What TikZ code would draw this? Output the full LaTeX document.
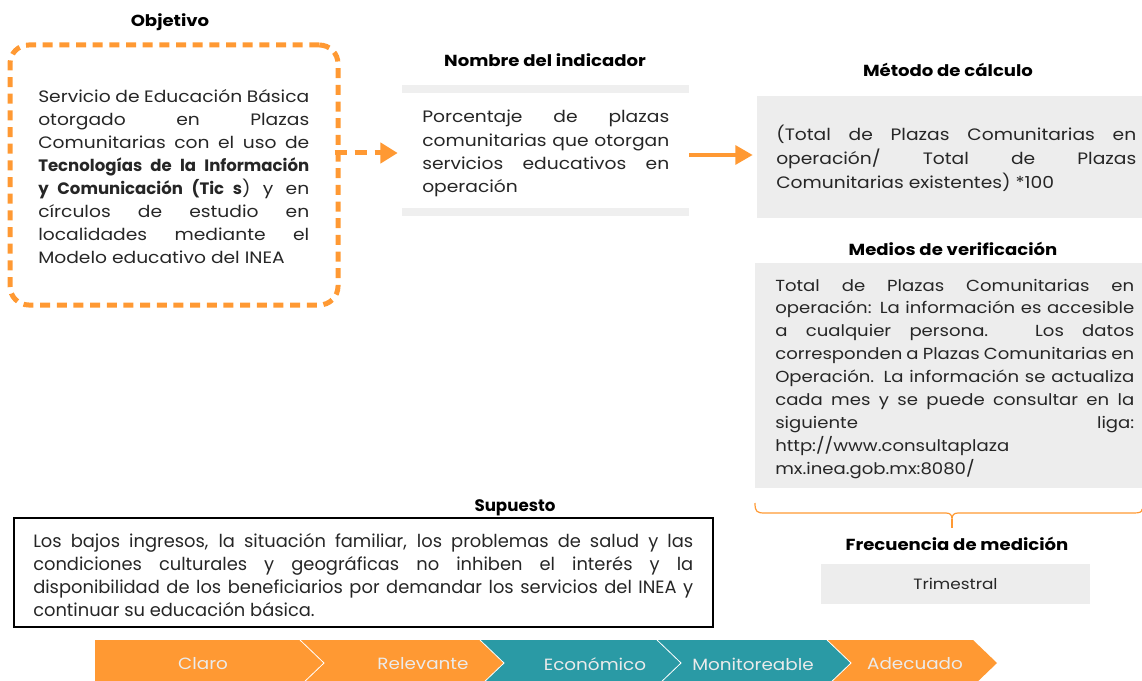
\documentclass[tikz,border=0pt]{standalone}
\usepackage{fontspec}
\setmainfont{Poppins}[FakeStretch=1.13]
\newfontfamily\condfont[FakeStretch=1.0]{Poppins}
\usetikzlibrary{arrows.meta,calc}
\definecolor{orng}{HTML}{FF9933}
\definecolor{tealc}{HTML}{2A9AA5}
\definecolor{boxgray}{HTML}{EDEDED}
\definecolor{bargray}{HTML}{EFEFEF}
\definecolor{txt}{HTML}{262626}
\newcommand{\J}[1]{\makebox[\linewidth][s]{#1}\par}
\newcommand{\Lst}[1]{\makebox[\linewidth][l]{#1}\par}
\newcommand{\bodybold}[1]{{\condfont\bfseries #1}}
\begin{document}
\begin{tikzpicture}[x=0.75pt,y=-0.75pt,
  title/.style={font=\fontsize{12}{14}\selectfont\bfseries, text=black, inner sep=0},
  body/.style={anchor=base west, inner sep=0, text=txt, font=\fontsize{12.4}{17.2}\selectfont},
  graybox/.style={fill=boxgray, draw=none, inner sep=0},
  chev/.style={draw=white, line width=0.6pt},
  chevtext/.style={text=white!92!black, font=\fontsize{12.2}{14}\selectfont, inner sep=0}
]
\useasboundingbox (0,0) rectangle (1142,681);

% ---------- Objetivo ----------
\node[title] (tobj) at (170,22) {Objetivo};
\node[draw=orng, line width=3.75pt, dash pattern=on 7.5pt off 5pt, rounded corners=14pt,
      minimum width=246pt, minimum height=195pt, inner sep=0] (obj) at (174,175) {};
\node[body] (objtext) at (38,103) {\parbox[t]{203.25pt}{%
\J{Servicio de Educación Básica}
\J{otorgado en Plazas}
\J{Comunitarias con el uso de}
\J{\bodybold{Tecnologías de la Información}}
\J{\bodybold{y Comunicación (Tic s}) y en}
\J{círculos de estudio en}
\J{localidades mediante el}
\Lst{Modelo educativo del INEA}}};

% ---------- Nombre del indicador ----------
\node[title] (tind) at (545,60) {Nombre del indicador};
\node[fill=white, inner sep=0, minimum width=215.25pt, minimum height=98.25pt] (ind) at (545.5,150.5) {};
\fill[bargray] (ind.north west) rectangle ($(ind.north east)+(0,8)$);
\fill[bargray] ($(ind.south west)+(0,-8)$) rectangle (ind.south east);
\node[body, font=\fontsize{12.4}{17.5}\selectfont] (indtext) at (422,123) {\parbox[t]{185.25pt}{%
\J{Porcentaje de plazas}
\J{comunitarias que otorgan}
\J{servicios educativos en}
\Lst{operación}}};

% ---------- Método de cálculo ----------
\node[title] (tmet) at (948,70) {Método de cálculo};
\node[graybox, minimum width=288.75pt, minimum height=91.5pt] (met) at (949.5,157) {};
\node[body, font=\fontsize{12.4}{18}\selectfont] (mettext) at (776,141) {\parbox[t]{270pt}{%
\J{(Total de Plazas Comunitarias en}
\J{operación/ Total de Plazas}
\Lst{Comunitarias existentes) *100}}};

% ---------- Medios de verificación ----------
\node[title] (tmed) at (953,249) {Medios de verificación};
\node[graybox, minimum width=290.25pt, minimum height=168.75pt] (med) at (948.5,375.5) {};
\node[body, font=\fontsize{12}{17.2}\selectfont] (medtext) at (775,291) {\parbox[t]{269.25pt}{%
\J{Total de Plazas Comunitarias en}
\J{operación: La información es accesible}
\J{a cualquier persona. Los datos}
\J{corresponden a Plazas Comunitarias en}
\J{Operación. La información se actualiza}
\J{cada mes y se puede consultar en la}
\J{siguiente liga:}
\Lst{http://www.consultaplaza}
\Lst{mx.inea.gob.mx:8080/}}};

% brace
\coordinate (bl) at (755,503);
\coordinate (bm) at (952,528);
\coordinate (br) at (1142,509);
\draw[orng, line width=0.9pt]
  (bl) .. controls (755,512) and (757,513) .. (765,513) -- (946,513)
  .. controls (950,513) and (952,515) .. (952,519)
  .. controls (952,515) and (954,513) .. (958,513) -- (1134,513)
  .. controls (1140,513) and (1142,512) .. (br);
\draw[orng, line width=0.9pt] (952,519) -- (bm);

% ---------- Frecuencia ----------
\node[title] (tfre) at (957,544) {Frecuencia de medición};
\node[graybox, minimum width=201.75pt, minimum height=30pt, text=txt,
      font=\fontsize{11.2}{14}\selectfont] (fre) at (955.5,584) {Trimestral};

% ---------- Supuesto ----------
\node[title, font=\condfont\fontsize{12.5}{14}\selectfont\bfseries] (tsup) at (515,508) {Supuesto};
\node[draw=black, line width=1.6pt, inner sep=0, minimum width=524.25pt, minimum height=81.75pt] (sup) at (363.5,572.5) {};
\node[body, font=\condfont\fontsize{13.4}{17.25}\selectfont] (suptext) at (33,547) {\parbox[t]{495pt}{%
\J{Los bajos ingresos, la situación familiar, los problemas de salud y las}
\J{condiciones culturales y geográficas no inhiben el interés y la}
\J{disponibilidad de los beneficiarios por demandar los servicios del INEA y}
\Lst{continuar su educación básica.}}};

% ---------- arrows ----------
\draw[orng, line width=3.75pt, dash pattern=on 9pt off 6pt,
      -{Triangle[length=13pt,width=15pt]}]
  ($(obj.east)+(-6,-22)$) -- ($(ind.west)+(-4,2.5)$);
\draw[orng, line width=3pt, -{Triangle[length=13pt,width=14pt]}]
  ($(ind.east)+(0,4.5)$) -- ($(met.west)+(-4,-2)$);

% ---------- chevrons ----------
\fill[orng] (95,640) -- (300,640) -- (324,663) -- (300,686) -- (95,686) -- cycle;
\fill[orng] (300,640) -- (480,640) -- (504,663) -- (480,686) -- (300,686) -- (324,663) -- cycle;
\fill[tealc] (480,640) -- (657,640) -- (681,663) -- (657,686) -- (480,686) -- (504,663) -- cycle;
\fill[tealc] (657,640) -- (827,640) -- (851,663) -- (827,686) -- (657,686) -- (681,663) -- cycle;
\fill[orng] (827,640) -- (973,640) -- (997,663) -- (973,686) -- (827,686) -- (851,663) -- cycle;
\draw[chev] (300,640) -- (324,663) -- (300,686);
\draw[chev] (480,640) -- (504,663) -- (480,686);
\draw[chev] (657,640) -- (681,663) -- (657,686);
\draw[chev] (827,640) -- (851,663) -- (827,686);
\node[chevtext] (c1) at (203,664) {Claro};
\node[chevtext] (c2) at (423,664) {Relevante};
\node[chevtext] (c3) at (595,664) {Económico};
\node[chevtext] (c4) at (753,664) {Monitoreable};
\node[chevtext] (c5) at (915,664) {Adecuado};
\end{tikzpicture}
\end{document}
